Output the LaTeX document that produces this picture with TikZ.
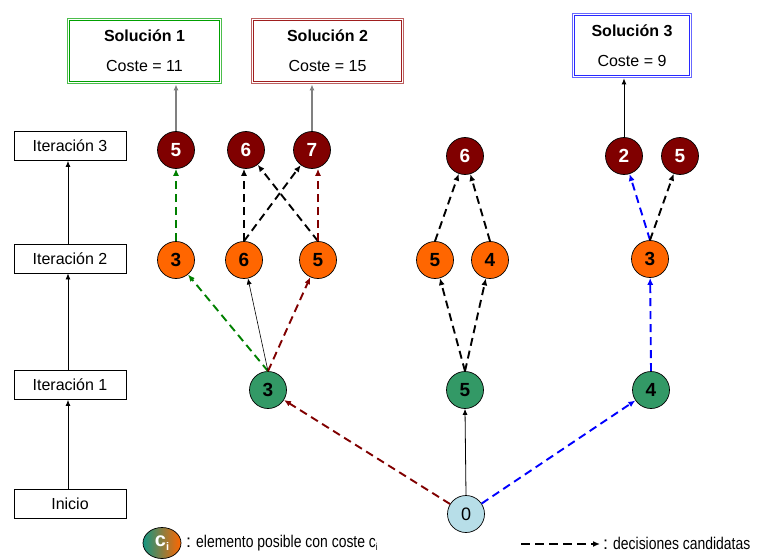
\documentclass[tikz,border=0pt]{standalone}
\usepackage{fontspec}
\setmainfont{Liberation Sans}
\newfontfamily\narrowfont[FakeStretch=0.82]{Liberation Sans}
\usetikzlibrary{arrows.meta,shapes.geometric}
\definecolor{dred}{RGB}{128,0,0}
\definecolor{orng}{RGB}{255,102,0}
\definecolor{grn}{RGB}{51,153,102}
\definecolor{lgrn}{RGB}{20,150,130}
\definecolor{lblue}{RGB}{183,222,232}
\definecolor{solgreen}{RGB}{0,160,0}
\definecolor{solred}{RGB}{160,30,30}
\definecolor{solblue}{RGB}{40,40,255}
\definecolor{pgreen}{RGB}{0,128,0}
\definecolor{pred}{RGB}{128,0,0}
\definecolor{pblue}{RGB}{0,0,255}
\begin{document}
\begin{tikzpicture}[x=1pt,y=-1pt,
  every node/.style={font=\fontsize{16}{19}\selectfont},
  itbox/.style={draw, line width=0.8pt, minimum width=112pt, minimum height=29pt, inner sep=0pt},
  solbox/.style={line width=1.8pt, align=center, inner sep=0pt},
  innerline/.style={line width=1pt},
  elem/.style={circle, draw, line width=0.7pt, minimum size=37pt, inner sep=0pt, font=\fontsize{19}{21}\selectfont\bfseries},
  it3/.style={elem, fill=dred, text=white},
  it2/.style={elem, fill=orng},
  it1/.style={elem, fill=grn},
  solid arr/.style={-{Latex[length=6pt,width=5pt]}, line width=0.8pt},
  cand/.style={line width=1.9pt, dash pattern=on 8pt off 5pt, -{Latex[length=7pt,width=6pt]}},
]
\useasboundingbox (0,0) rectangle (760,559);

% iteration boxes
\node[itbox] (it3) at (70,146) {Iteración 3};
\node[itbox] (it2) at (70,258.5) {Iteración 2};
\node[itbox] (it1) at (70,385) {Iteración 1};
\node[itbox] (ini) at (70,504) {Inicio};
\draw[solid arr] ([xshift=-2pt]ini.north) -- ([xshift=-2pt]it1.south);
\draw[solid arr] ([xshift=-2pt]it1.north) -- ([xshift=-2pt]it2.south);
\draw[solid arr] ([xshift=-2pt]it2.north) -- ([xshift=-2pt]it3.south);

% solution boxes
\node[solbox, draw=solgreen!70, minimum width=154pt, minimum height=65pt] (sol1) at (144.5,51)
  {\textbf{Solución 1}\\[11pt]Coste = 11};
\draw[innerline, solgreen] ([xshift=3pt,yshift=-3pt]sol1.north west) rectangle ([xshift=-3pt,yshift=3pt]sol1.south east);
\node[solbox, draw=solred!70, minimum width=152pt, minimum height=65pt] (sol2) at (327.5,51)
  {\textbf{Solución 2}\\[11pt]Coste = 15};
\draw[innerline, solred] ([xshift=3pt,yshift=-3pt]sol2.north west) rectangle ([xshift=-3pt,yshift=3pt]sol2.south east);
\node[solbox, draw=solblue!70, minimum width=119pt, minimum height=64pt] (sol3) at (632,45.5)
  {\textbf{Solución 3}\\[11pt]Coste = 9};
\draw[innerline, solblue] ([xshift=3pt,yshift=-3pt]sol3.north west) rectangle ([xshift=-3pt,yshift=3pt]sol3.south east);

% iteration 3
\node[it3] (c5) at (176,150) {5};
\node[it3] (c6) at (246,150) {6};
\node[it3] (c7) at (312,150) {7};
\node[it3] (m6) at (465,156) {6};
\node[it3] (r2) at (624,156) {2};
\node[it3] (r5) at (680,156) {5};

% iteration 2
\node[it2] (b3) at (176,260) {3};
\node[it2] (b6) at (244,260) {6};
\node[it2] (b5) at (318,260) {5};
\node[it2] (n5) at (435,260) {5};
\node[it2] (n4) at (490,260) {4};
\node[it2] (q3) at (650,259) {3};

% iteration 1
\node[it1] (a3) at (268,390) {3};
\node[it1] (a5) at (465,390) {5};
\node[it1] (a4) at (651,390) {4};

% start
\node[elem, fill=lblue, font=\fontsize{18}{20}\selectfont] (z0) at (466,514) {0};

% to solutions
\draw[solid arr, gray, line width=1.3pt] (c5.north) -- (sol1.south -| c5.north);
\draw[solid arr, gray, line width=1.3pt] (c7.north) -- (sol2.south -| c7.north);
\draw[solid arr] (r2.north) -- (sol3.south -| r2.north);

% iteration 2 -> 3
\draw[cand, pgreen] (b3.north) -- (c5);
\draw[cand] (b6.north) -- (b6.north |- c6.south);
\draw[cand] (b6.north) -- (c7);
\draw[cand] (b5.north) -- (c6);
\draw[cand, pred] (b5.north) -- (b5.north |- c7.south);
\draw[cand] (n5.north) -- (m6);
\draw[cand] (n4.north) -- (m6);
\draw[cand, pblue] (q3.north) -- (r2);
\draw[cand] (q3.north) -- (r5);

% iteration 1 -> 2
\draw[cand, pgreen] (a3.north) -- (b3);
\draw[solid arr, line width=0.6pt] (a3.north) -- (b6);
\draw[cand, pred] (a3.north) -- (b5);
\draw[cand] (a5.north) -- (n5);
\draw[cand] (a5.north) -- (n4);
\draw[cand, pblue] (a4.north) -- (q3);

% start -> iteration 1
\draw[cand, pred] (z0) -- (a3);
\draw[solid arr] (z0.north) -- (a5.south);
\draw[cand, pblue] (z0) -- (a4);

% legend
\node[ellipse, draw, line width=0.7pt, minimum width=38pt, minimum height=31pt, inner sep=0pt,
  left color=lgrn, right color=orng, text=white,
  font=\fontsize{20}{22}\selectfont\bfseries] (lgc) at (162,543) {c\raisebox{-4pt}{\fontsize{11}{12}\selectfont i}};
\node[anchor=west, inner sep=0pt] (lgt) at (186,543)
  {{\fontsize{18}{20}\selectfont :}\hspace{5pt}{\narrowfont\fontsize{17}{20}\selectfont elemento posible con coste c\raisebox{-3pt}{\fontsize{10}{12}\selectfont i}}};
\coordinate (lg1) at (521,544);
\coordinate (lg2) at (600,544);
\draw[cand, dash pattern=on 9pt off 5pt] (lg1) -- (lg2);
\node[anchor=west, inner sep=0pt] (lgd) at (603,543)
  {{\fontsize{18}{20}\selectfont :}\hspace{5pt}{\narrowfont\fontsize{17}{20}\selectfont decisiones candidatas}};
\end{tikzpicture}
\end{document}
